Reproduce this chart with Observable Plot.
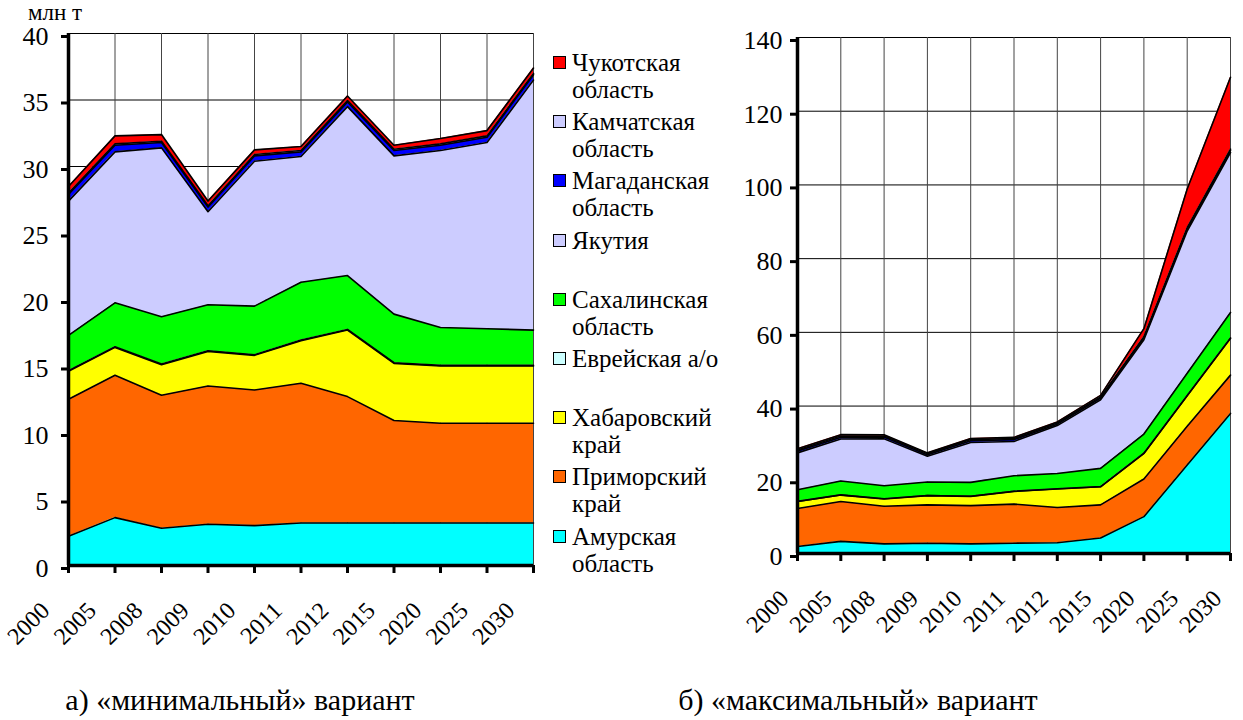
<!DOCTYPE html>
<html><head><meta charset="utf-8">
<script src="https://cdn.jsdelivr.net/npm/d3@7"></script>
<script src="https://cdn.jsdelivr.net/npm/@observablehq/plot@0.6"></script>
<style>
body{margin:0;background:#fff;font-family:'Liberation Serif','Times New Roman',serif;color:#000;}
#wrap{position:relative;width:1243px;height:720px;overflow:hidden;font-family:'Liberation Serif','Times New Roman',serif;}
.leg{position:absolute;left:553px;font-size:25px;line-height:27px;font-family:'Liberation Serif',serif;}
.sw{position:absolute;left:0;top:7px;width:11px;height:11px;border:1.5px solid #000;}
.lt{position:absolute;left:19px;top:0;white-space:nowrap;}
.cap{position:absolute;font-size:30px;line-height:32px;white-space:nowrap;transform:translateX(-50%);font-family:'Liberation Serif',serif;}
</style></head><body><div id="wrap"></div>
<script>
const years = ["2000","2005","2008","2009","2010","2011","2012","2015","2020","2025","2030"];
const series = ["Амурская область","Приморский край","Хабаровский край","Еврейская а/о","Сахалинская область","Якутия","Магаданская область","Камчатская область","Чукотская область"];
const colors = ["#00ffff","#ff6600","#ffff00","#ccffff","#00ff00","#ccccff","#0000ff","#ccccff","#ff0000"];
const legendLines = [["Чукотская","область"],["Камчатская","область"],["Магаданская","область"],["Якутия"],["Сахалинская","область"],["Еврейская а/о"],["Хабаровский","край"],["Приморский","край"],["Амурская","область"]];
const legendColors = ["#ff0000","#ccccff","#0000ff","#ccccff","#00ff00","#ccffff","#ffff00","#ff6600","#00ffff"];

// «минимальный» вариант
const minAmur = [2.2, 3.6, 2.8, 3.1, 3.0, 3.2, 3.2, 3.2, 3.2, 3.2, 3.2];
const minPrim = [10.3, 10.7, 10.0, 10.4, 10.2, 10.5, 9.5, 7.7, 7.5, 7.5, 7.5];
const minKhab = [2.1, 2.1, 2.3, 2.6, 2.6, 3.2, 5.0, 4.3, 4.3, 4.3, 4.3];
const minEvr  = [0.05, 0.05, 0.05, 0.05, 0.05, 0.05, 0.05, 0.05, 0.05, 0.05, 0.05];
const minSakh = [2.65, 3.3, 3.55, 3.45, 3.65, 4.35, 4.05, 3.65, 2.85, 2.75, 2.65];
const minYak  = [10.1, 11.35, 12.7, 7.0, 10.9, 9.45, 12.7, 11.9, 13.3, 14.0, 18.8];
const minMag  = [0.5, 0.5, 0.4, 0.35, 0.4, 0.35, 0.35, 0.4, 0.4, 0.4, 0.4];
const minKam  = [0.1, 0.1, 0.1, 0.1, 0.1, 0.1, 0.1, 0.1, 0.1, 0.1, 0.1];
const minChuk = [0.5, 0.6, 0.5, 0.35, 0.35, 0.3, 0.35, 0.3, 0.4, 0.4, 0.4];

// «максимальный» вариант
const maxAmur = [1.9, 3.3, 2.6, 2.8, 2.6, 2.8, 2.9, 4.2, 10.0, 24.0, 38.0];
const maxPrim = [10.3, 10.8, 10.2, 10.4, 10.4, 10.6, 9.6, 9.0, 10.2, 10.5, 10.4];
const maxKhab = [1.9, 1.75, 2.0, 2.5, 2.5, 3.45, 5.0, 4.9, 6.95, 8.3, 10.0];
const maxEvr  = [0.05, 0.05, 0.05, 0.05, 0.05, 0.05, 0.05, 0.05, 0.05, 0.05, 0.05];
const maxSakh = [3.15, 3.75, 3.55, 3.65, 3.75, 4.2, 4.15, 4.95, 5.2, 6.05, 6.95];
const maxYak  = [10.0, 11.4, 12.7, 7.0, 10.8, 9.3, 13.0, 18.6, 25.6, 38.6, 43.4];
const maxMag  = [0.5, 0.5, 0.5, 0.4, 0.5, 0.5, 0.4, 0.5, 0.5, 0.6, 0.6];
const maxKam  = [0.3, 0.3, 0.3, 0.3, 0.3, 0.3, 0.3, 0.3, 0.3, 0.3, 0.3];
const maxChuk = [0.3, 0.4, 0.3, 0.2, 0.3, 0.3, 0.3, 0.4, 2.2, 10.5, 19.5];

const minVals = [minAmur, minPrim, minKhab, minEvr, minSakh, minYak, minMag, minKam, minChuk];
const maxVals = [maxAmur, maxPrim, maxKhab, maxEvr, maxSakh, maxYak, maxMag, maxKam, maxChuk];

const FF = "Liberation Serif";
const wrap = document.getElementById("wrap");

function chart(vals, o) {
  const data = [];
  series.forEach((s, si) => vals[si].forEach((v, i) => data.push({i, s, v})));
  const idx = years.map((_, i) => i);
  const yt = d3.range(0, o.ymax + 1, o.ystep);
  return Plot.plot({
    width: o.width, height: o.height,
    marginLeft: o.ml, marginRight: o.mr, marginTop: o.mt, marginBottom: o.mb,
    style: "font-family:'Liberation Serif',serif;background:white;color:black;overflow:visible;",
    x: {type: "linear", domain: [0, years.length - 1], axis: null},
    y: {domain: [0, o.ymax], axis: null},
    color: {domain: series, range: colors},
    marks: [
      Plot.gridY(yt, {stroke: "#000", strokeOpacity: 1, strokeWidth: 1}),
      Plot.gridX(idx, {stroke: "#444", strokeOpacity: 1, strokeWidth: 1}),
      Plot.areaY(data, Plot.stackY({x: "i", y: "v", z: "s", fill: "s"})),
      Plot.lineY(data, Plot.stackY2({x: "i", y: "v", z: "s", stroke: "#000", strokeWidth: 1.6})),
      Plot.ruleX([0], {stroke: "#000", strokeWidth: 3.5}),
      Plot.ruleY([0], {stroke: "#000", strokeWidth: 3.5}),
      Plot.axisY(yt, {tickSize: 7, strokeWidth: 3, tickPadding: o.ypad, fontSize: 26, fontFamily: FF, dy: 3, label: null}),
      Plot.axisX(idx, {tickSize: 8, strokeWidth: 3, tickFormat: () => "", label: null}),
      Plot.axisX(idx, {tickSize: 0, tickPadding: 41, tickRotate: -45, dx: o.dx, fontSize: 24, fontFamily: FF, tickFormat: i => years[i], label: null})
    ]
  });
}

function place(el, left, top) {
  el.style.position = "absolute"; el.style.left = left + "px"; el.style.top = top + "px";
  wrap.appendChild(el);
}

place(chart(minVals, {width: 545, height: 640, ml: 68, mr: 12, mt: 33, mb: 75, ymax: 40, ystep: 5, ypad: 13, dx: -23}), 0, 0);
place(chart(maxVals, {width: 503, height: 640, ml: 57, mr: 13, mt: 37, mb: 87, ymax: 140, ystep: 20, ypad: 8, dx: -13}), 740, 0);

// unit label
const unit = document.createElement("div");
unit.textContent = "млн т";
unit.style.cssText = "position:absolute;left:28px;top:0px;font-size:23px;line-height:26px;font-family:'Liberation Serif',serif;";
wrap.appendChild(unit);

// legend
legendLines.forEach((lines, k) => {
  const d = document.createElement("div");
  d.className = "leg";
  d.style.top = (49 + k * 59.2) + "px";
  const sw = document.createElement("div");
  sw.className = "sw"; sw.style.background = legendColors[k];
  d.appendChild(sw);
  const t = document.createElement("div");
  t.className = "lt"; t.innerHTML = lines.join("<br>");
  d.appendChild(t);
  wrap.appendChild(d);
});

// captions
const caps = [["а) «минимальный» вариант", 240], ["б) «максимальный» вариант", 858]];
caps.forEach(([txt, cx]) => {
  const c = document.createElement("div");
  c.className = "cap"; c.textContent = txt;
  c.style.left = cx + "px"; c.style.top = "684px";
  wrap.appendChild(c);
});
</script>
</body></html>
